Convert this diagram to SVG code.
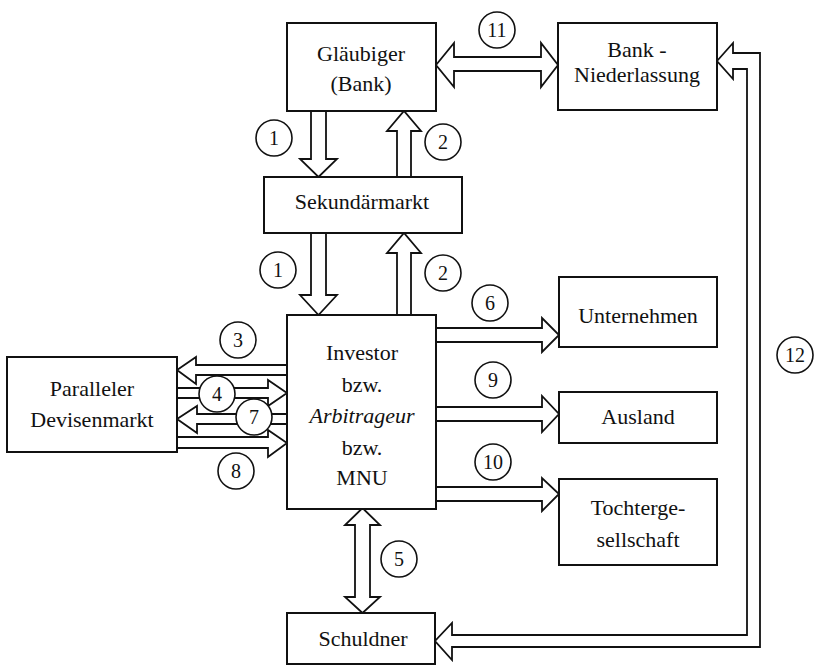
<svg xmlns="http://www.w3.org/2000/svg" width="815" height="668" viewBox="0 0 815 668">
<style>
.box{fill:#fff;stroke:#111;stroke-width:2}
.arr{fill:#fff;stroke:#111;stroke-width:1.8;stroke-linejoin:miter}
.num{fill:#fff;stroke:#111;stroke-width:1.6}
text{font-family:"Liberation Serif","Times New Roman",serif;font-size:22px;fill:#111;text-anchor:middle}
.n{font-size:20px}
</style>
<rect width="815" height="668" fill="#fff"/>
<g id="connectors">
  <polygon class="arr" points="311,111 311,159 300,159 318.5,177 337,159 326,159 326,111"/>
  <polygon class="arr" points="397,177 397,131 387,131 404,111 421,131 411,131 411,177"/>
  <polygon class="arr" points="311,233 311,295 300,295 318.5,315 337,295 326,295 326,233"/>
  <polygon class="arr" points="397,315 397,253 387,253 404,233 421,253 411,253 411,315"/>
  <polygon class="arr" points="436,65 454,43 454,57 541,57 541,43 558,65 541,87 541,71 454,71 454,87"/>
  <polygon class="arr" points="717,61 733,43 733,53 760,53 760,647 452,647 452,660 435,641 452,623 452,635 747,635 747,69 733,69 733,79"/>
  <polygon class="arr" points="362.5,508 380,525 370,525 370,597 380,597 362.5,613 345,597 355,597 355,525 345,525"/>
  <polygon class="arr" points="436,328 542,328 542,318 559,335 542,352 542,342 436,342"/>
  <polygon class="arr" points="436,407 542,407 542,396 559,414 542,432 542,421 436,421"/>
  <polygon class="arr" points="436,487 542,487 542,478 559,494 542,511 542,501 436,501"/>
  <polygon class="arr" points="287,365 196,365 196,357 177,370 196,384 196,375 287,375"/>
  <polygon class="arr" points="177,388 268,388 268,380 287,393 268,406 268,398 177,398"/>
  <polygon class="arr" points="287,414 197,414 197,406 177,419 197,433 197,424 287,424"/>
  <polygon class="arr" points="177,437 268,437 268,430 287,443 268,457 268,448 177,448"/>
</g>
<g id="glaeubiger">
  <rect class="box" x="287" y="23" width="149" height="88"/>
  <text x="361" y="61">Gläubiger</text>
  <text x="361" y="91">(Bank)</text>
</g>
<g id="bank-niederlassung">
  <rect class="box" x="558" y="23" width="159" height="87"/>
  <text x="637" y="57">Bank -</text>
  <text x="637" y="82">Niederlassung</text>
</g>
<g id="sekundaermarkt">
  <rect class="box" x="264" y="177" width="198" height="56"/>
  <text x="362" y="209">Sekundärmarkt</text>
</g>
<g id="investor">
  <rect class="box" x="287" y="315" width="149" height="194"/>
  <text x="362" y="360">Investor</text>
  <text x="362" y="392">bzw.</text>
  <text x="362" y="423" font-style="italic">Arbitrageur</text>
  <text x="362" y="455">bzw.</text>
  <text x="362" y="485">MNU</text>
</g>
<g id="paralleler-devisenmarkt">
  <rect class="box" x="7" y="357" width="170" height="95"/>
  <text x="92" y="396">Paralleler</text>
  <text x="92" y="427">Devisenmarkt</text>
</g>
<g id="unternehmen">
  <rect class="box" x="559" y="277" width="158" height="70"/>
  <text x="638" y="323">Unternehmen</text>
</g>
<g id="ausland">
  <rect class="box" x="559" y="392" width="158" height="51"/>
  <text x="638" y="424">Ausland</text>
</g>
<g id="tochtergesellschaft">
  <rect class="box" x="559" y="479" width="158" height="86"/>
  <text x="638" y="515">Tochterge-</text>
  <text x="638" y="547">sellschaft</text>
</g>
<g id="schuldner">
  <rect class="box" x="287" y="613" width="148" height="51"/>
  <text x="363" y="646">Schuldner</text>
</g>
<g id="labels">
  <circle class="num" cx="274" cy="138" r="18"/><text class="n" x="274" y="145">1</text>
  <circle class="num" cx="443" cy="142" r="18"/><text class="n" x="443" y="149">2</text>
  <circle class="num" cx="278" cy="270" r="18"/><text class="n" x="278" y="277">1</text>
  <circle class="num" cx="443" cy="273" r="18"/><text class="n" x="443" y="280">2</text>
  <circle class="num" cx="497" cy="30" r="18"/><text class="n" x="497" y="37">11</text>
  <circle class="num" cx="490" cy="303" r="18"/><text class="n" x="490" y="310">6</text>
  <circle class="num" cx="493" cy="380" r="18"/><text class="n" x="493" y="387">9</text>
  <circle class="num" cx="493" cy="462" r="18"/><text class="n" x="493" y="469">10</text>
  <circle class="num" cx="795" cy="355" r="18"/><text class="n" x="795" y="362">12</text>
  <circle class="num" cx="399" cy="559" r="18"/><text class="n" x="399" y="566">5</text>
  <circle class="num" cx="238" cy="340" r="18"/><text class="n" x="238" y="347">3</text>
  <circle class="num" cx="217" cy="394" r="18"/><text class="n" x="217" y="401">4</text>
  <circle class="num" cx="254" cy="417" r="18"/><text class="n" x="254" y="424">7</text>
  <circle class="num" cx="236" cy="471" r="18"/><text class="n" x="236" y="478">8</text>
</g>
</svg>
